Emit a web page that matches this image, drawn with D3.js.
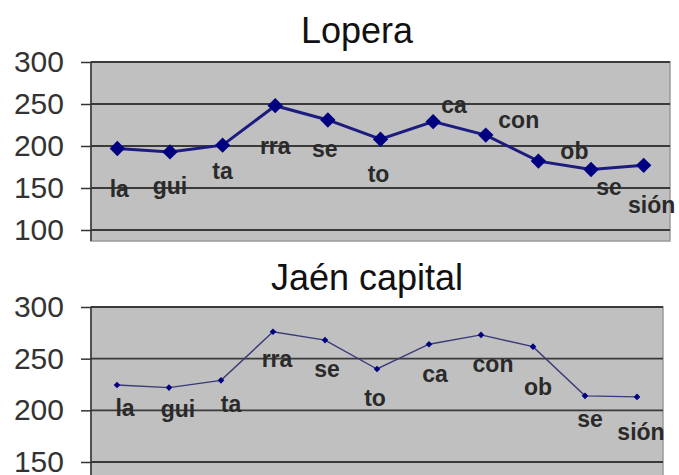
<!DOCTYPE html>
<html>
<head>
<meta charset="utf-8">
<script src="https://cdn.jsdelivr.net/npm/d3@7/dist/d3.min.js"></script>
<style>
  html, body { margin: 0; padding: 0; background: #ffffff; }
  svg { display: block; font-family: "Liberation Sans", Arial, sans-serif; }
</style>
</head>
<body>
<svg id="chart" width="679" height="475"></svg>
<script>
// ---- data ----
const syllables = ["la", "gui", "ta", "rra", "se", "to", "ca", "con", "ob", "se", "sión"];
const loperaValues = [197, 193, 201, 248, 231, 208, 229, 213, 182, 172, 177];
const jaenValues = [224.5, 222, 229, 276, 268, 240, 264, 273, 261.6, 214, 213];
const loperaTicks = [100, 150, 200, 250, 300];
const jaenTicks = [150, 200, 250, 300];
const titles = ["Lopera", "Jaén capital"];

// ---- layout (label offsets relative to each point, in px) ----
const loperaLabelOffsets = [[2,48],[0,42],[0,34],[0,48],[-3,37],[-2,43],[21,-9],[33,-7],[36,-2],[18,25],[8,48]];
const jaenLabelOffsets = [[8,31],[9,29],[10,32],[4,35],[2,37],[-2,37],[6,38],[12,37],[5,48],[5,31],[4,43]];

const svg = d3.select("#chart");

const panels = [
  { title: titles[0], titleX: 357, titleY: 43, values: loperaValues, ticks: loperaTicks,
    domain: [100, 300], yTop: 62, yBottom: 230, rectBottom: 241, x0: 91, x1: 670,
    offsets: loperaLabelOffsets, lineW: 3, marker: 150 },
  { title: titles[1], titleX: 367, titleY: 290, values: jaenValues, ticks: jaenTicks,
    domain: [150, 300], yTop: 307, yBottom: 462, rectBottom: 480, x0: 91, x1: 663,
    offsets: jaenLabelOffsets, lineW: 1.4, marker: 28 }
];

panels.forEach(p => {
  const g = svg.append("g");
  const x = d3.scalePoint().domain(d3.range(syllables.length)).range([p.x0, p.x1]).padding(0.5);
  const y = d3.scaleLinear().domain(p.domain).range([p.yBottom, p.yTop]);

  // plot area
  g.append("rect")
    .attr("x", p.x0).attr("y", p.yTop)
    .attr("width", p.x1 - p.x0).attr("height", p.rectBottom - p.yTop)
    .attr("fill", "#c0c0c0").attr("stroke", "#9a9a9a").attr("stroke-width", 1.5);

  // gridlines
  g.append("g").selectAll("line").data(p.ticks).join("line")
    .attr("x1", p.x0).attr("x2", p.x1)
    .attr("y1", d => y(d)).attr("y2", d => y(d))
    .attr("stroke", "#3a3a3a").attr("stroke-width", 1.8);

  // y axis
  const ax = g.append("g").attr("transform", `translate(${p.x0},0)`)
    .call(d3.axisLeft(y).tickValues(p.ticks).tickSize(10).tickPadding(17).tickFormat(d3.format("d")));
  ax.select(".domain").attr("stroke", "#333").attr("stroke-width", 1.5)
    .attr("d", `M-0,${p.yTop}V${p.rectBottom}`);
  ax.selectAll(".tick line").attr("stroke", "#333").attr("stroke-width", 1.5);
  ax.selectAll(".tick text").attr("font-size", 30).attr("fill", "#333")
    .attr("font-family", "Liberation Sans, Arial, sans-serif");

  // line
  const line = d3.line().x((d, i) => x(i)).y(d => y(d));
  g.append("path").datum(p.values)
    .attr("d", line).attr("fill", "none")
    .attr("stroke", p.lineW > 2 ? "#1c1c80" : "#3a3a78").attr("stroke-width", p.lineW);

  // markers
  g.append("g").selectAll("path").data(p.values).join("path")
    .attr("transform", (d, i) => `translate(${x(i)},${y(d)})`)
    .attr("d", d3.symbol().type(d3.symbolDiamond2 || d3.symbolDiamond).size(p.marker))
    .attr("fill", "#000080");

  // point labels
  g.append("g").selectAll("text").data(p.values).join("text")
    .attr("x", (d, i) => x(i) + p.offsets[i][0])
    .attr("y", (d, i) => y(d) + p.offsets[i][1])
    .attr("text-anchor", "middle")
    .attr("font-size", 23).attr("font-weight", "bold").attr("fill", "#2a2a2a")
    .text((d, i) => syllables[i]);

  // title
  g.append("text").attr("x", p.titleX).attr("y", p.titleY)
    .attr("text-anchor", "middle").attr("font-size", 36).attr("fill", "#111")
    .text(p.title);
});
</script>
</body>
</html>
